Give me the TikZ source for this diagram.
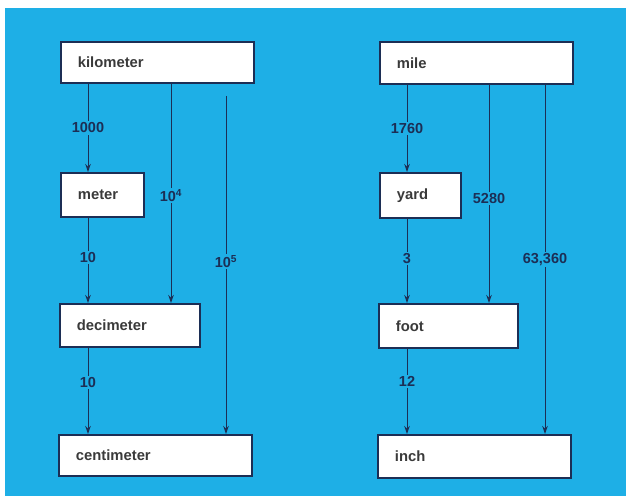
\documentclass[tikz,border=0pt]{standalone}
\usepackage{fontspec}
\setmainfont{Liberation Sans}
\usetikzlibrary{arrows.meta}
\definecolor{bgblue}{HTML}{1EAFE6}
\definecolor{ink}{HTML}{1C2E55}
\definecolor{boxtext}{HTML}{3A3A3A}
\tikzset{
  unitbox/.style={draw=ink, line width=1.8pt, fill=white, anchor=north west,
    inner xsep=17pt, inner ysep=0pt, align=left, text=boxtext,
    font=\fontsize{14.8}{16}\selectfont\bfseries},
  factor/.style={fill=bgblue, inner sep=1.5pt, text=ink,
    font=\fontsize{14.5}{16}\selectfont\bfseries},
  conv/.style={draw=ink, line width=1pt, -{Stealth[length=8pt,width=5.5pt]}}
}
\begin{document}
\begin{tikzpicture}[x=1pt,y=-1pt]
\useasboundingbox (0,0) rectangle (626,500);
\fill[white] (0,0) rectangle (626,500);
\fill[bgblue] (5,8) rectangle (626,496);

% metric column
\node[unitbox, minimum width=193pt, minimum height=41pt, text width=159pt] (km) at (60,41) {kilometer};
\node[unitbox, minimum width=83pt, minimum height=44pt, text width=49pt] (m) at (60,172) {meter};
\node[unitbox, minimum width=140pt, minimum height=43pt, text width=106pt] (dm) at (59,303) {decimeter};
\node[unitbox, minimum width=193pt, minimum height=41pt, text width=159pt] (cm) at (58,434) {centimeter};

% imperial column
\node[unitbox, minimum width=193pt, minimum height=42pt, text width=159pt] (mi) at (379,41) {mile};
\node[unitbox, minimum width=81pt, minimum height=45pt, text width=47pt] (yd) at (379,172) {yard};
\node[unitbox, minimum width=139pt, minimum height=44pt, text width=105pt] (ft) at (378,303) {foot};
\node[unitbox, minimum width=193pt, minimum height=43pt, text width=159pt] (in) at (377,434) {inch};

% column positions of the connectors
\coordinate (l1) at (88,0);
\coordinate (l2) at (171,0);
\coordinate (l3) at (226,0);
\coordinate (l3top) at (226,96);
\coordinate (r1) at (407,0);
\coordinate (r2) at (489,0);
\coordinate (r3) at (545,0);

% metric conversions
\draw[conv] (km.south -| l1) -- node[factor, pos=0.5] {1000} (m.north -| l1);
\draw[conv] (m.south -| l1) -- node[factor, pos=0.47] {10} (dm.north -| l1);
\draw[conv] (dm.south -| l1) -- node[factor, pos=0.4] {10} (cm.north -| l1);
\draw[conv] (km.south -| l2) -- node[factor, pos=0.51] {10\textsuperscript{4}} (dm.north -| l2);
\draw[conv] (l3top) -- node[factor, pos=0.49] {10\textsuperscript{5}} (cm.north -| l3);

% imperial conversions
\draw[conv] (mi.south -| r1) -- node[factor, pos=0.5] {1760} (yd.north -| r1);
\draw[conv] (yd.south -| r1) -- node[factor, pos=0.47] {3} (ft.north -| r1);
\draw[conv] (ft.south -| r1) -- node[factor, pos=0.38] {12} (in.north -| r1);
\draw[conv] (mi.south -| r2) -- node[factor, pos=0.52] {5280} (ft.north -| r2);
\draw[conv] (mi.south -| r3) -- node[factor, pos=0.5] {63,360} (in.north -| r3);
\end{tikzpicture}
\end{document}
